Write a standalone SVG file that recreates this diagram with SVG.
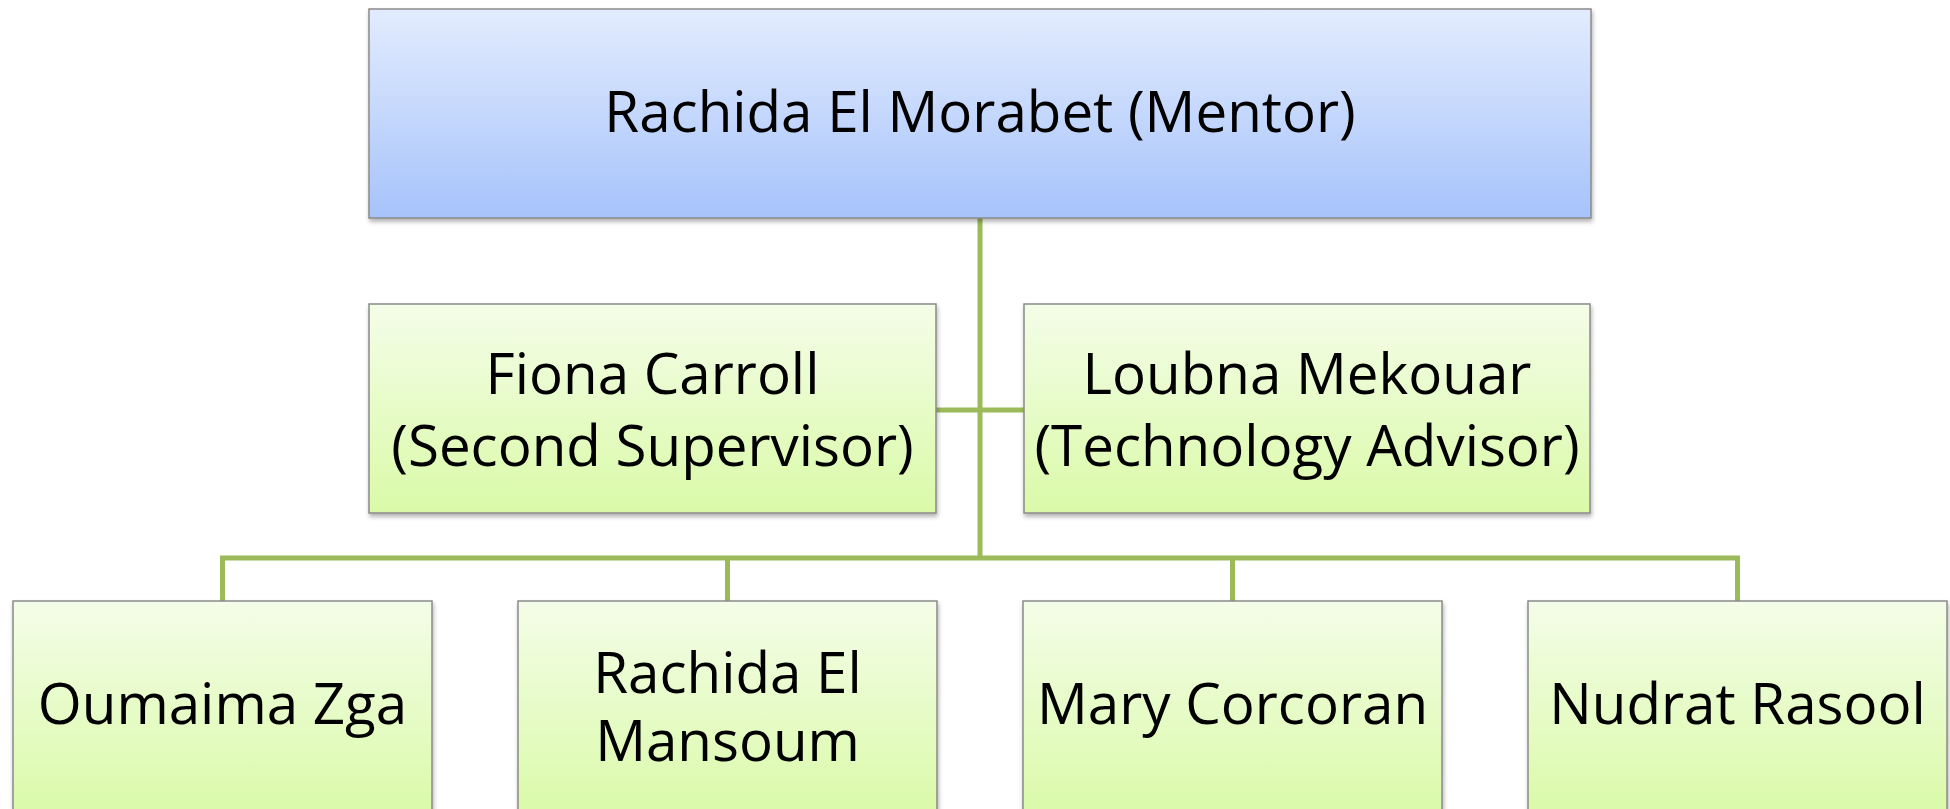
<svg xmlns="http://www.w3.org/2000/svg" width="1950" height="809" viewBox="0 0 1950 809">
<style>
.box{stroke:#8a8a8a;stroke-width:1.5;filter:url(#sh)}
.t{font-family:"Open Sans","Noto Sans",sans-serif;font-size:56.5px;fill:#000;text-anchor:middle}
.c{stroke:#9bbb59;stroke-width:5;fill:none}
</style>
<defs>
<linearGradient id="gb" x1="0" y1="0" x2="0" y2="1"><stop offset="0" stop-color="#e3ecfe"/><stop offset="1" stop-color="#a6c3fb"/></linearGradient>
<linearGradient id="gg" x1="0" y1="0" x2="0" y2="1"><stop offset="0" stop-color="#f4fde8"/><stop offset="1" stop-color="#dafaa8"/></linearGradient>
<filter id="sh" x="-5%" y="-5%" width="110%" height="115%"><feDropShadow dx="1" dy="3" stdDeviation="2" flood-color="#000" flood-opacity="0.3"/></filter>
</defs>
<rect width="1950" height="809" fill="#fff"/>
<g id="connectors">
<path class="c" d="M980 218 V558"/>
<path class="c" d="M936 410 H1024"/>
<path class="c" d="M222.5 601 V558 H1737.5 V601"/>
<path class="c" d="M727.5 558 V601"/>
<path class="c" d="M1232.5 558 V601"/>
</g>
<g id="n-mentor"><rect class="box" x="369" y="9" width="1222" height="209" fill="url(#gb)"/><text class="t" x="980" y="132">Rachida El Morabet (Mentor)</text></g>
<g id="n-fiona"><rect class="box" x="369" y="304" width="567" height="209" fill="url(#gg)"/><text class="t" x="652.5" y="394">Fiona Carroll<tspan x="652.5" y="466">(Second Supervisor)</tspan></text></g>
<g id="n-loubna"><rect class="box" x="1024" y="304" width="566" height="209" fill="url(#gg)"/><text class="t" x="1307" y="394">Loubna Mekouar<tspan x="1307" y="466">(Technology Advisor)</tspan></text></g>
<g id="n-oumaima"><rect class="box" x="13" y="601" width="419" height="215" fill="url(#gg)"/><text class="t" x="222.5" y="724">Oumaima Zga</text></g>
<g id="n-rachida2"><rect class="box" x="518" y="601" width="419" height="215" fill="url(#gg)"/><text class="t" x="727.5" y="693">Rachida El<tspan x="727.5" y="761">Mansoum</tspan></text></g>
<g id="n-mary"><rect class="box" x="1023" y="601" width="419" height="215" fill="url(#gg)"/><text class="t" x="1232.5" y="724">Mary Corcoran</text></g>
<g id="n-nudrat"><rect class="box" x="1528" y="601" width="419" height="215" fill="url(#gg)"/><text class="t" x="1737.5" y="724">Nudrat Rasool</text></g>
</svg>
